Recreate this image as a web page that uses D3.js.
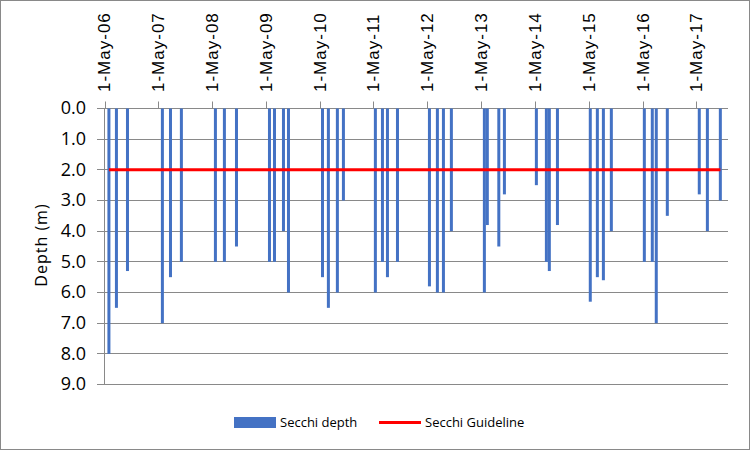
<!DOCTYPE html>
<html>
<head>
  <meta charset="utf-8">
  <title>Secchi depth</title>
  <script src="https://d3js.org/d3.v7.min.js"></script>
  <style>
    html, body { margin: 0; padding: 0; background: #fff; }
  </style>
</head>
<body>
<svg width="751" height="451"></svg>
<script>
// sample dates and secchi depths (m)
var sampleDates = [
  "2006-05-31", "2006-07-21", "2006-10-04",
  "2007-05-29", "2007-07-23", "2007-10-05",
  "2008-05-23", "2008-07-23", "2008-10-13",
  "2009-05-25", "2009-06-28", "2009-08-28", "2009-10-01",
  "2010-05-20", "2010-06-29", "2010-08-29", "2010-10-09",
  "2011-05-14", "2011-07-01", "2011-08-04", "2011-10-11",
  "2012-05-15", "2012-07-08", "2012-08-18", "2012-10-11",
  "2013-05-23", "2013-06-12", "2013-08-29", "2013-10-06",
  "2014-05-11", "2014-07-18", "2014-08-07", "2014-10-01",
  "2015-05-12", "2015-06-29", "2015-08-09", "2015-10-02",
  "2016-05-13", "2016-07-06", "2016-08-02", "2016-10-16",
  "2017-05-21", "2017-07-15", "2017-10-11"
];
var secchiDepth = [
  8.0, 6.5, 5.3,
  7.0, 5.5, 5.0,
  5.0, 5.0, 4.5,
  5.0, 5.0, 4.0, 6.0,
  5.5, 6.5, 6.0, 3.0,
  6.0, 5.0, 5.5, 5.0,
  5.8, 6.0, 6.0, 4.0,
  6.0, 3.8, 4.5, 2.8,
  2.5, 5.0, 5.3, 3.8,
  6.3, 5.5, 5.6, 4.0,
  5.0, 5.0, 7.0, 3.5,
  2.8, 4.0, 3.0
];
var guidelineDepth = 2.0;
var tickYears = [2006, 2007, 2008, 2009, 2010, 2011, 2012, 2013, 2014, 2015, 2016, 2017];
var depthTicks = [0, 1, 2, 3, 4, 5, 6, 7, 8, 9];

var parseDate = d3.timeParse("%Y-%m-%d");
var data = sampleDates.map(function(d, i) { return {date: parseDate(d), depth: secchiDepth[i]}; });
var tickDates = tickYears.map(function(yr) { return new Date(yr, 4, 1); });

var svg = d3.select("svg"),
    plotLeft = 104.5, plotRight = 728, plotTop = 108, plotBottom = 384;

var gridColor = "#898989";

svg.append("rect")
    .attr("x", 0.5).attr("y", 0.5)
    .attr("width", 749).attr("height", 449)
    .attr("fill", "#fff")
    .attr("stroke", gridColor);

var x = d3.scaleTime()
    .domain([new Date(2006, 4, 1), new Date(2017, 11, 2)])
    .range([plotLeft, plotRight]);

var y = d3.scaleLinear()
    .domain([0, 9])
    .range([plotTop, plotBottom]);

function crisp(v) { return Math.round(v) + 0.5; }

// horizontal gridlines + left ticks
svg.append("g")
  .selectAll("line")
  .data(depthTicks)
  .enter().append("line")
    .attr("x1", 97).attr("x2", plotRight)
    .attr("y1", function(d) { return crisp(y(d)); })
    .attr("y2", function(d) { return crisp(y(d)); })
    .attr("stroke", gridColor);

// left axis line
svg.append("line")
    .attr("x1", plotLeft).attr("x2", plotLeft)
    .attr("y1", crisp(y(0))).attr("y2", crisp(y(9)))
    .attr("stroke", gridColor);

// top axis ticks
svg.append("g")
  .selectAll("line")
  .data(tickDates)
  .enter().append("line")
    .attr("x1", function(d) { return crisp(x(d)); })
    .attr("x2", function(d) { return crisp(x(d)); })
    .attr("y1", crisp(y(0)) - 7).attr("y2", crisp(y(0)))
    .attr("stroke", gridColor);

var fmt = d3.timeFormat("%-d-%b-%y");
svg.append("g")
  .selectAll("text")
  .data(tickDates)
  .enter().append("text")
    .attr("transform", function(d) { return "translate(" + x(d) + ",92) rotate(-90)"; })
    .attr("dy", "0.35em")
    .attr("font-family", "Liberation Sans, Arial, sans-serif")
    .attr("font-size", 17)
    .attr("letter-spacing", 1)
    .attr("fill", "#000")
    .text(function(d) { return fmt(d); });

// y tick labels
svg.append("g")
  .selectAll("text")
  .data(depthTicks)
  .enter().append("text")
    .attr("x", 86)
    .attr("y", function(d) { return y(d); })
    .attr("dy", "0.35em")
    .attr("text-anchor", "end")
    .attr("font-family", "Open Sans, sans-serif")
    .attr("font-size", 18)
    .attr("fill", "#000")
    .text(function(d) { return d3.format(".1f")(d); });

svg.append("text")
    .attr("transform", "translate(41,245) rotate(-90)")
    .attr("dy", "0.35em")
    .attr("text-anchor", "middle")
    .attr("font-family", "Open Sans, sans-serif")
    .attr("font-size", 16)
    .attr("letter-spacing", 1)
    .attr("fill", "#000")
    .text("Depth (m)");

// bars
svg.append("g")
  .selectAll("rect")
  .data(data)
  .enter().append("rect")
    .attr("x", function(d) { return x(d.date) - 1.5; })
    .attr("y", y(0) + 0.5)
    .attr("width", 3)
    .attr("height", function(d) { return y(d.depth) - y(0); })
    .attr("fill", "#4472C4");

// guideline
svg.append("path")
    .datum(data)
    .attr("fill", "none")
    .attr("stroke", "#FF0000")
    .attr("stroke-width", 3)
    .attr("d", d3.line()
      .x(function(d) { return x(d.date); })
      .y(function() { return y(guidelineDepth) + 0.5; }));

// legend
var legend = svg.append("g")
    .attr("font-family", "Open Sans, sans-serif")
    .attr("font-size", 13)
    .attr("fill", "#000");

legend.append("rect")
    .attr("x", 234).attr("y", 417)
    .attr("width", 42).attr("height", 11)
    .attr("fill", "#4472C4");
legend.append("text")
    .attr("x", 280).attr("y", 422.5)
    .attr("dy", "0.35em")
    .text("Secchi depth");
legend.append("line")
    .attr("x1", 379).attr("x2", 421)
    .attr("y1", 422.5).attr("y2", 422.5)
    .attr("stroke", "#FF0000")
    .attr("stroke-width", 3);
legend.append("text")
    .attr("x", 425).attr("y", 422.5)
    .attr("dy", "0.35em")
    .text("Secchi Guideline");
</script>
</body>
</html>
